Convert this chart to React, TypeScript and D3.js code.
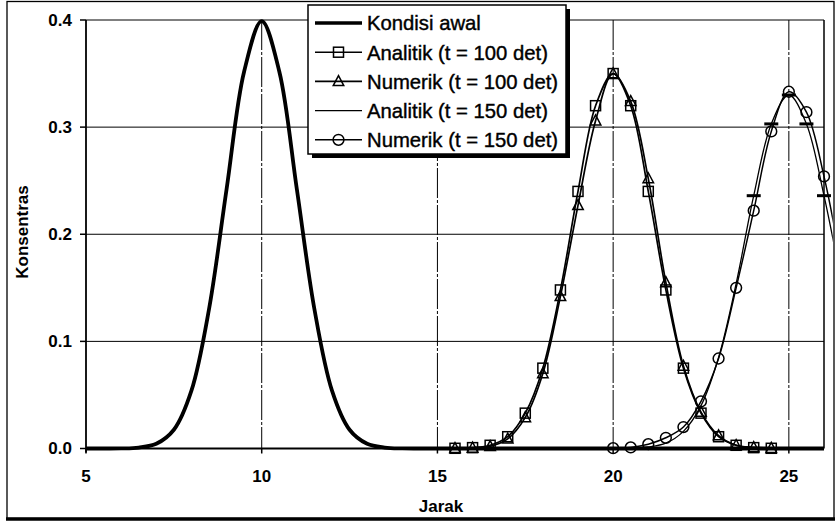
import React from "react";
import * as d3 from "d3";

// Jarak (distance) sample points
const xAwal = [5, 5.5, 6, 6.5, 7, 7.5, 8, 8.5, 9, 9.5, 10, 10.5, 11, 11.5, 12, 12.5, 13, 13.5, 14, 14.5, 15, 15.5, 16, 16.5, 17, 17.5, 18, 18.5, 19, 19.5, 20, 20.5, 21, 21.5, 22, 22.5, 23, 23.5, 24, 24.5, 25, 25.5, 26];
const kondisiAwal = [0, 0, 0.0001, 0.0009, 0.0044, 0.0175, 0.054, 0.13, 0.242, 0.352, 0.399, 0.352, 0.242, 0.13, 0.054, 0.0175, 0.0044, 0.0009, 0.0001, 0, 0, 0, 0, 0, 0, 0, 0, 0, 0, 0, 0, 0, 0, 0, 0, 0, 0, 0, 0, 0, 0, 0, 0];

const x100 = [15.5, 16, 16.5, 17, 17.5, 18, 18.5, 19, 19.5, 20, 20.5, 21, 21.5, 22, 22.5, 23, 23.5, 24, 24.5];
const analitik100 = [0.0002, 0.0008, 0.003, 0.011, 0.033, 0.075, 0.148, 0.24, 0.32, 0.35, 0.32, 0.24, 0.148, 0.075, 0.033, 0.011, 0.003, 0.0008, 0.0002];
const numerik100 = [0.0001, 0.0005, 0.002, 0.009, 0.029, 0.07, 0.142, 0.227, 0.306, 0.35, 0.324, 0.252, 0.155, 0.077, 0.034, 0.012, 0.003, 0.001, 0.0003];

const x150 = [20, 20.5, 21, 21.5, 22, 22.5, 23, 23.5, 24, 24.5, 25, 25.5, 26, 26.5];
const analitik150 = [0.0001, 0.0003, 0.0015, 0.005, 0.016, 0.04, 0.085, 0.154, 0.236, 0.303, 0.33, 0.303, 0.236, 0.154];
const numerik150 = [0.0003, 0.001, 0.004, 0.01, 0.02, 0.044, 0.084, 0.15, 0.222, 0.296, 0.333, 0.314, 0.254, 0.17];
// points of the analytic t = 150 series that carry a dash marker
const analitik150Marks = [24, 24.5, 25, 25.5, 26];

const xTicks = [5, 10, 15, 20, 25];
const yTicks = [0, 0.1, 0.2, 0.3, 0.4];

const legendLabels = [
  "Kondisi awal",
  "Analitik (t = 100 det)",
  "Numerik (t = 100 det)",
  "Analitik (t = 150 det)",
  "Numerik (t = 150 det)",
];

const FONT = "'Liberation Sans', Arial, Helvetica, sans-serif";

const xs = d3.scaleLinear().domain([5, 26]).range([86, 824]);
const ys = d3.scaleLinear().domain([0, 0.4]).range([448.5, 20]);

const smooth = d3
  .line<[number, number]>()
  .x((d) => xs(d[0]))
  .y((d) => ys(d[1]))
  .curve(d3.curveCatmullRom.alpha(0.5));

const pairs = (xv: number[], yv: number[]): [number, number][] => xv.map((v, i) => [v, yv[i]]);

const Square = ({ cx, cy, s = 10 }: { cx: number; cy: number; s?: number }) => (
  <rect x={cx - s / 2} y={cy - s / 2} width={s} height={s} fill="none" stroke="#000" strokeWidth={1.5} />
);
const Triangle = ({ cx, cy, s = 10.5 }: { cx: number; cy: number; s?: number }) => (
  <path
    d={`M${cx},${cy - s * 0.55}L${cx + s / 2},${cy + s * 0.4}L${cx - s / 2},${cy + s * 0.4}Z`}
    fill="none"
    stroke="#000"
    strokeWidth={1.5}
  />
);
const Circle = ({ cx, cy, r = 5.4 }: { cx: number; cy: number; r?: number }) => (
  <circle cx={cx} cy={cy} r={r} fill="none" stroke="#000" strokeWidth={1.5} />
);
const Dash = ({ cx, cy, w = 14 }: { cx: number; cy: number; w?: number }) => (
  <line x1={cx - w / 2} x2={cx + w / 2} y1={cy} y2={cy} stroke="#000" strokeWidth={3} />
);

export default function App() {
  const [x0, x1] = xs.range();
  const [yB, yT] = ys.range();
  const a150 = pairs(x150, analitik150);

  const legX = 308;
  const legY = 5;
  const legW = 258;
  const legH = 149;
  const rowY = (i: number) => legY + 18 + i * 29.2;
  const lineX0 = legX + 7;
  const lineX1 = legX + 54;
  const midX = (lineX0 + lineX1) / 2;

  return (
    <svg
      width={836}
      height={530}
      style={{ position: "absolute", left: 0, top: 0, background: "#fff" }}
      fontFamily={FONT}
    >
      <defs>
        <clipPath id="plotClip">
          <rect x={x0} y={0} width={xs(26.25) - x0} height={yB + 3} />
        </clipPath>
      </defs>

      {/* outer frame */}
      <rect x={7} y={1.5} width={827} height={517} fill="none" stroke="#000" strokeWidth={1.3} />
      <line x1={6} x2={835} y1={519} y2={519} stroke="#000" strokeWidth={3.5} />

      {/* grid */}
      {yTicks.map((t) => (
        <line key={"gy" + t} x1={x0} x2={x1} y1={ys(t)} y2={ys(t)} stroke="#000" strokeWidth={1} />
      ))}
      {xTicks.slice(1).map((t) => (
        <line key={"gx" + t} x1={xs(t)} x2={xs(t)} y1={yT} y2={yB} stroke="#000" strokeWidth={1} strokeDasharray="30 2 3 2" />
      ))}
      <line x1={x1} x2={x1} y1={yT} y2={yB} stroke="#000" strokeWidth={1.5} />
      <line x1={x0} x2={x0} y1={yT} y2={yB + 4} stroke="#000" strokeWidth={1.8} />
      <line x1={x0} x2={x1} y1={yB} y2={yB} stroke="#000" strokeWidth={1.8} />

      {/* ticks */}
      {yTicks.map((t) => (
        <g key={"ty" + t}>
          <line x1={x0 - 6} x2={x0} y1={ys(t)} y2={ys(t)} stroke="#000" strokeWidth={1.5} />
          <text x={x0 - 14} y={ys(t)} dy="0.35em" textAnchor="end" fontSize={17} fontWeight="bold">
            {d3.format(".1f")(t)}
          </text>
        </g>
      ))}
      {xTicks.map((t) => (
        <g key={"tx" + t}>
          <line x1={xs(t)} x2={xs(t)} y1={yB} y2={yB + 5} stroke="#000" strokeWidth={1.5} />
          <text x={xs(t)} y={yB + 33} textAnchor="middle" fontSize={17} fontWeight="bold">
            {t}
          </text>
        </g>
      ))}

      {/* axis titles */}
      <text x={441} y={512} textAnchor="middle" fontSize={17} fontWeight="bold">
        Jarak
      </text>
      <text
        transform={`translate(28, 232) rotate(-90)`}
        textAnchor="middle"
        fontSize={17}
        fontWeight="bold"
      >
        Konsentras
      </text>

      {/* series */}
      <g clipPath="url(#plotClip)">
        <path d={smooth(pairs(xAwal, kondisiAwal)) ?? ""} fill="none" stroke="#000" strokeWidth={3.8} strokeLinejoin="round" />
        <path d={smooth(pairs(x100, analitik100)) ?? ""} fill="none" stroke="#000" strokeWidth={1.7} />
        <path d={smooth(pairs(x100, numerik100)) ?? ""} fill="none" stroke="#000" strokeWidth={1.7} />
        <path d={smooth(a150) ?? ""} fill="none" stroke="#000" strokeWidth={1.3} />
        <path d={smooth(pairs(x150, numerik150)) ?? ""} fill="none" stroke="#000" strokeWidth={1.5} />
      </g>

      {x100.map((v, i) => (
        <Square key={"sq" + i} cx={xs(v)} cy={ys(analitik100[i])} />
      ))}
      {x100.map((v, i) => (
        <Triangle key={"tr" + i} cx={xs(v)} cy={ys(numerik100[i])} />
      ))}
      {analitik150Marks.map((v) => {
        const idx = x150.indexOf(v);
        return <Dash key={"da" + v} cx={xs(v)} cy={ys(analitik150[idx])} />;
      })}
      {x150
        .filter((v) => v <= 26)
        .map((v, i) => (
          <Circle key={"ci" + i} cx={xs(v)} cy={ys(numerik150[i])} />
        ))}

      {/* legend */}
      <rect x={legX + 4} y={legY + 4} width={legW} height={legH} fill="#000" />
      <rect x={legX} y={legY} width={legW} height={legH} fill="#fff" stroke="#000" strokeWidth={1.5} />
      {legendLabels.map((lab, i) => {
        const yy = rowY(i);
        return (
          <g key={lab}>
            <line
              x1={lineX0}
              x2={lineX1}
              y1={yy}
              y2={yy}
              stroke="#000"
              strokeWidth={i === 0 ? 3.4 : i === 3 ? 1.3 : 1.6}
            />
            {i === 1 && <Square cx={midX} cy={yy} />}
            {i === 2 && <Triangle cx={midX} cy={yy} />}
            {i === 4 && <Circle cx={midX} cy={yy} />}
            <text x={legX + 59} y={yy} dy="0.36em" fontSize={20.3} stroke="#000" strokeWidth={0.4}>
              {lab}
            </text>
          </g>
        );
      })}
    </svg>
  );
}
